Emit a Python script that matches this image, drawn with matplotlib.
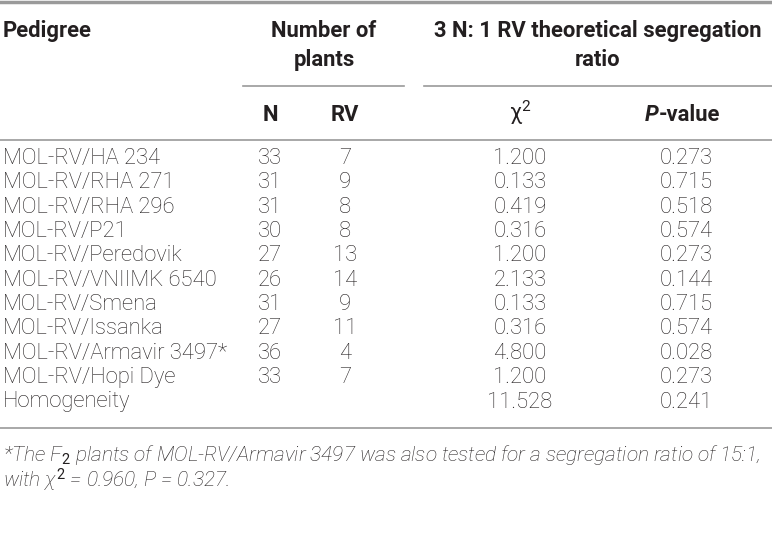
import matplotlib
matplotlib.use("Agg")
import matplotlib.pyplot as plt
from matplotlib.lines import Line2D

pedigree = ["MOL-RV/HA 234", "MOL-RV/RHA 271", "MOL-RV/RHA 296", "MOL-RV/P21",
            "MOL-RV/Peredovik", "MOL-RV/VNIIMK 6540", "MOL-RV/Smena",
            "MOL-RV/Issanka", "MOL-RV/Armavir 3497*", "MOL-RV/Hopi Dye", "Homogeneity"]
n_plants = ["33", "31", "31", "30", "27", "26", "31", "27", "36", "33", ""]
rv_plants = ["7", "9", "8", "8", "13", "14", "9", "11", "4", "7", ""]
chi2 = ["1.200", "0.133", "0.419", "0.316", "1.200", "2.133", "0.133", "0.316", "4.800", "1.200", "11.528"]
pval = ["0.273", "0.715", "0.518", "0.574", "0.273", "0.144", "0.715", "0.574", "0.028", "0.273", "0.241"]

plt.rcParams["mathtext.fontset"] = "custom"
plt.rcParams["mathtext.rm"] = "Roboto"
plt.rcParams["mathtext.it"] = "Roboto:italic:light"
plt.rcParams["mathtext.bf"] = "Roboto:bold"

W, H = 772, 558
fig = plt.figure(figsize=(W / 100, H / 100), dpi=100)
ax = fig.add_axes([0, 0, 1, 1])
ax.set_xlim(0, W)
ax.set_ylim(H, 0)
ax.axis("off")

FAM = ["Roboto", "DejaVu Sans"]
fs = 15.8
col = "#231f20"
lc = "#9a9a9a"

def hline(y, x0, x1, lw=1.2):
    ax.add_line(Line2D([x0, x1], [y, y], color=lc, lw=lw))

hline(1.5, 0, W, lw=2.5)
hline(86, 243, 404)
hline(86, 424, W)
hline(140, 0, W)
hline(428, 0, W)

hdr = dict(family=FAM, fontsize=fs, weight="bold", color=col, va="center")
ax.text(3, 31, "Pedigree", ha="left", **hdr)
ax.text(324, 31, "Number of", ha="center", **hdr)
ax.text(324, 60, "plants", ha="center", **hdr)
ax.text(598, 31, "3 N: 1 RV theoretical segregation", ha="center", **hdr)
ax.text(598, 60, "ratio", ha="center", **hdr)
ax.text(270, 115, "N", ha="center", **hdr)
ax.text(345, 115, "RV", ha="center", **hdr)
ax.text(520, 113, r"$\mathrm{\chi}^2$", ha="center", **hdr)
# P-value: bold italic "P" followed by bold "-value"
ax.text(659, 115, "P", ha="right", style="italic", **hdr)
ax.text(659, 115, "-value", ha="left", **hdr)

body = dict(family=FAM, fontsize=fs, weight="light", color=col, va="center")
y0, dy = 158.5, 24.35
for i in range(len(pedigree)):
    y = y0 + i * dy
    ax.text(3, y, pedigree[i], ha="left", **body)
    ax.text(270, y, n_plants[i], ha="center", **body)
    ax.text(345, y, rv_plants[i], ha="center", **body)
    ax.text(520, y, chi2[i], ha="center", **body)
    ax.text(686, y, pval[i], ha="center", **body)

foot = dict(family=FAM, fontsize=15, weight="light", style="italic", color=col, va="center")
ax.text(3, 455, r"*The F$_2$ plants of MOL-RV/Armavir 3497 was also tested for a segregation ratio of 15:1,", ha="left", **foot)
ax.text(3, 480, r"with $\chi^2$ = 0.960, $P$ = 0.327.", ha="left", **foot)

fig.savefig("out.png", dpi=100, facecolor="white")
